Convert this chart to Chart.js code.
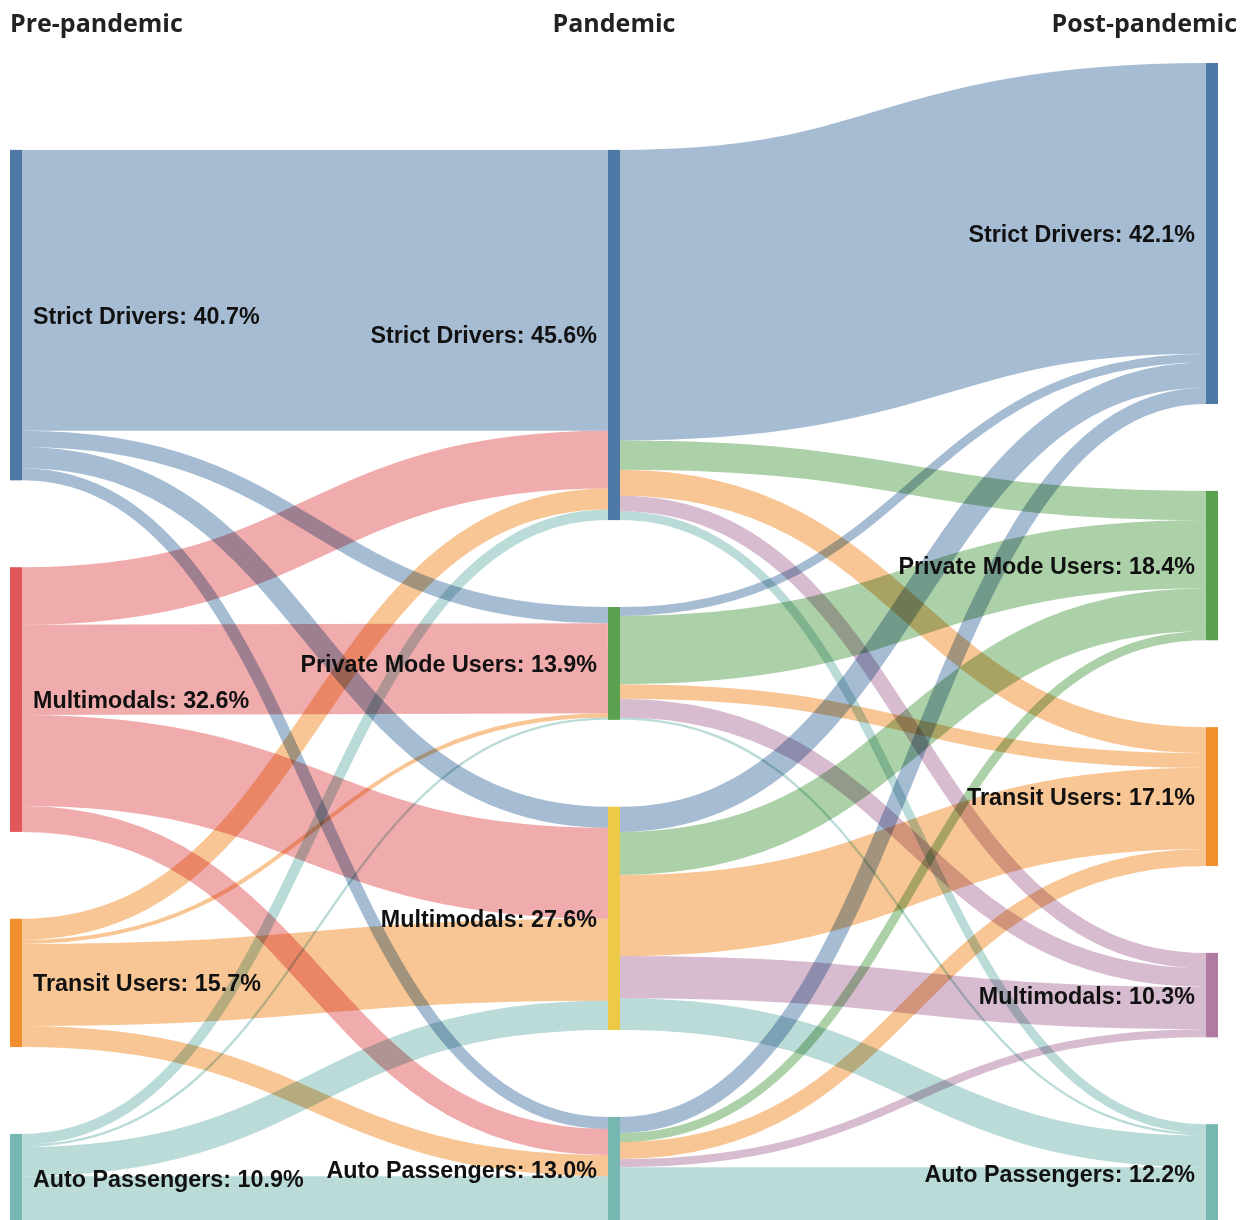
<!DOCTYPE html>
<html>
<head>
<meta charset="utf-8">
<title>Commute mode shifts across the pandemic</title>
<script src="https://cdn.jsdelivr.net/npm/chart.js@4.4.1/dist/chart.umd.min.js"></script>
<style>
  body { margin: 0; background: #fff; }
  #wrap { position: relative; width: 1253px; height: 1220px; overflow: hidden; }
  .stage { position: absolute; top: 5px; font: 700 25px "Open Sans", "Noto Sans", sans-serif; color: #222; white-space: nowrap; }
</style>
</head>
<body>
<div id="wrap">
  <canvas id="sankeyChart"></canvas>
  <div class="stage" id="stage0" style="left:10px"></div>
  <div class="stage" id="stage1" style="left:614px; transform:translateX(-50%)"></div>
  <div class="stage" id="stage2" style="right:16px"></div>
</div>
<script>
// Sankey: travel mode groups before, during and after the pandemic (% of respondents)

const stages = ['Pre-pandemic', 'Pandemic', 'Post-pandemic'];

const preNodes = ['Strict Drivers', 'Multimodals', 'Transit Users', 'Auto Passengers'];
const pandemicNodes = ['Strict Drivers', 'Private Mode Users', 'Multimodals', 'Auto Passengers'];
const postNodes = ['Strict Drivers', 'Private Mode Users', 'Transit Users', 'Multimodals', 'Auto Passengers'];

const preShares = [40.7, 32.6, 15.7, 10.9];
const pandemicShares = [45.6, 13.9, 27.6, 13.0];
const postShares = [42.1, 18.4, 17.1, 10.3, 12.2];

// rows = from (pre-pandemic), columns = to (pandemic)
const preToPandemic = [
    [34.6, 2.0, 2.6, 1.5],
    [7.1, 11.1, 11.2, 3.2],
    [2.6, 0.5, 10.1, 2.6],
    [1.3, 0.3, 3.6, 5.7]
];

// rows = from (pandemic), columns = to (post-pandemic)
const pandemicToPost = [
    [35.8, 3.6, 3.2, 1.9, 1.1],
    [1.1, 8.4, 1.8, 2.3, 0.3],
    [3.1, 5.3, 10.0, 5.2, 3.9],
    [2.0, 1.1, 2.1, 1.0, 6.8]
];

const preColors = ['#4e79a7', '#e15759', '#f28e2b', '#76b7b2'];
const pandemicColors = ['#4e79a7', '#59a14f', '#edc948', '#76b7b2'];
const postColors = ['#4e79a7', '#59a14f', '#f28e2b', '#b07aa1', '#76b7b2'];

const NODE_W = 12;
const GAP = 10.7;          // space between nodes, in % units
const LINK_ALPHA = 0.5;

stages.forEach((s, i) => { document.getElementById('stage' + i).textContent = s; });

function hexToRgba(hex, a) {
    const n = parseInt(hex.slice(1), 16);
    return `rgba(${(n >> 16) & 255}, ${(n >> 8) & 255}, ${n & 255}, ${a})`;
}

const sum = arr => arr.reduce((a, b) => a + b, 0);

// node sizes come from the flows so the bands fit exactly
const columns = [
    { names: preNodes, shares: preShares, colors: preColors,
      size: preToPandemic.map(r => sum(r)) },
    { names: pandemicNodes, shares: pandemicShares, colors: pandemicColors,
      size: pandemicNodes.map((_, j) => Math.max(sum(preToPandemic.map(r => r[j])), sum(pandemicToPost[j]))) },
    { names: postNodes, shares: postShares, colors: postColors,
      size: postNodes.map((_, j) => sum(pandemicToPost.map(r => r[j]))) }
];

// stack nodes, columns aligned at the bottom
const colExtent = columns.map(c => sum(c.size) + (c.size.length - 1) * GAP);
const maxExtent = Math.max(...colExtent);
columns.forEach((c, ci) => {
    let y = maxExtent - colExtent[ci];
    c.y0 = [];
    c.size.forEach(v => { c.y0.push(y); y += v + GAP; });
});

// links, with their offsets inside the source and target nodes
const links = [];
[preToPandemic, pandemicToPost].forEach((matrix, ci) => {
    const src = columns[ci], tgt = columns[ci + 1];
    const outOff = src.y0.slice();
    const inOff = tgt.y0.slice();
    const mine = [];
    // leaving a node: ordered by destination
    matrix.forEach((row, i) => {
        row.forEach((v, j) => {
            if (!v) return;
            const l = {
                col: ci, value: v, i, j,
                sy: outOff[i],
                // first stage coloured by origin, second stage by destination
                color: ci === 0 ? src.colors[i] : tgt.colors[j]
            };
            outOff[i] += v;
            mine.push(l);
        });
    });
    // arriving at a node: ordered by origin
    mine.slice().sort((a, b) => a.j - b.j || a.i - b.i).forEach(l => {
        l.ty = inOff[l.j];
        inOff[l.j] += l.value;
    });
    links.push(...mine);
});

const sankeyPlugin = {
    id: 'sankey',
    beforeDatasetsDraw(chart) {
        const { ctx, scales: { x, y } } = chart;
        const thick = v => Math.abs(y.getPixelForValue(v) - y.getPixelForValue(0));

        ctx.save();
        ctx.globalCompositeOperation = 'multiply';
        ctx.lineCap = 'butt';
        links.forEach(l => {
            const x0 = x.getPixelForValue(l.col) + NODE_W;
            const x1 = x.getPixelForValue(l.col + 1);
            const ys = y.getPixelForValue(l.sy + l.value / 2);
            const yt = y.getPixelForValue(l.ty + l.value / 2);
            const xm = (x0 + x1) / 2;
            ctx.beginPath();
            ctx.moveTo(x0, ys);
            ctx.bezierCurveTo(xm, ys, xm, yt, x1, yt);
            ctx.lineWidth = Math.max(1, thick(l.value));
            ctx.strokeStyle = hexToRgba(l.color, LINK_ALPHA);
            ctx.stroke();
        });
        ctx.restore();

        ctx.save();
        columns.forEach((c, ci) => {
            const left = x.getPixelForValue(ci);
            c.size.forEach((v, i) => {
                const top = y.getPixelForValue(c.y0[i]);
                const bottom = y.getPixelForValue(c.y0[i] + v);
                ctx.fillStyle = c.colors[i];
                ctx.fillRect(left, top, NODE_W, bottom - top);
            });
        });

        ctx.font = 'bold 23.3px "Liberation Sans", Arial, sans-serif';
        ctx.fillStyle = '#111';
        ctx.textBaseline = 'middle';
        columns.forEach((c, ci) => {
            const left = x.getPixelForValue(ci);
            c.size.forEach((v, i) => {
                const mid = y.getPixelForValue(c.y0[i] + v / 2) + 2;
                const text = c.names[i] + ': ' + c.shares[i].toFixed(1) + '%';
                if (ci === 0) {
                    ctx.textAlign = 'left';
                    ctx.fillText(text, left + NODE_W + 11, mid);
                } else {
                    ctx.textAlign = 'right';
                    ctx.fillText(text, left - 11, mid);
                }
            });
        });
        ctx.restore();
    }
};

new Chart(document.getElementById('sankeyChart'), {
    type: 'scatter',
    data: { datasets: [] },
    options: {
        responsive: true,
        maintainAspectRatio: false,
        animation: false,
        layout: { padding: { left: 10, right: 47, top: 0, bottom: 0 } },
        plugins: {
            legend: { display: false },
            tooltip: { enabled: false },
            title: { display: false }
        },
        scales: {
            x: { display: false, min: 0, max: 2 },
            y: { display: false, reverse: true, min: -7.76, max: 142.5 }
        }
    },
    plugins: [sankeyPlugin]
});
</script>
</body>
</html>
